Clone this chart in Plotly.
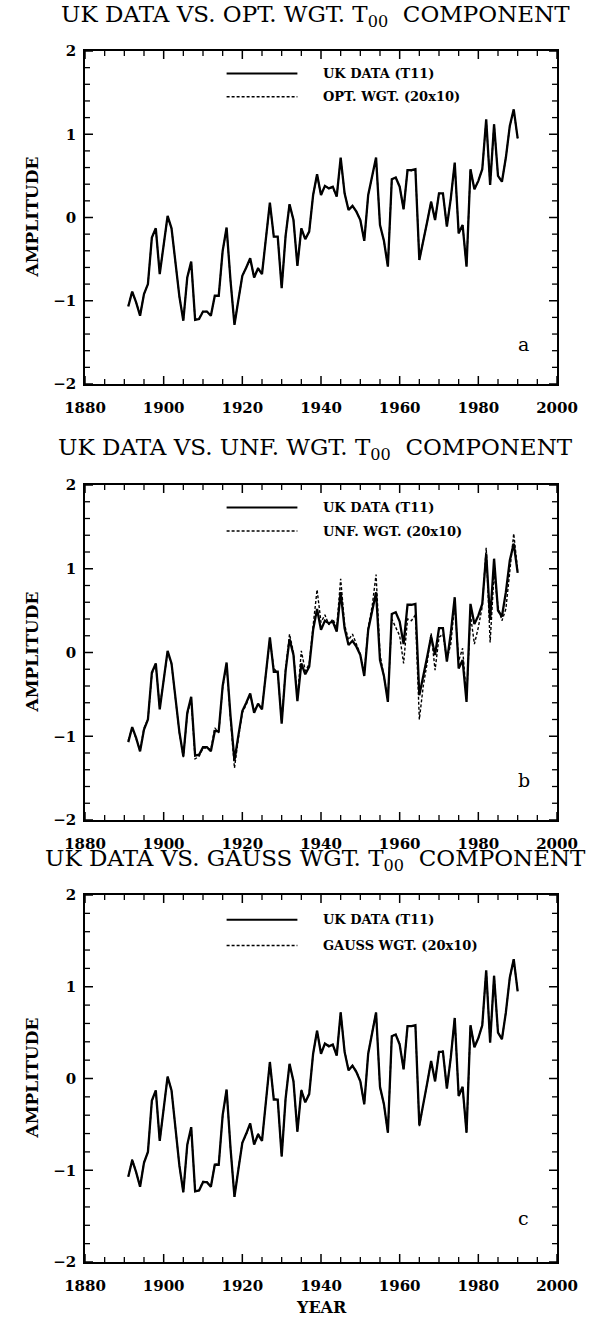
import plotly.graph_objects as go

years = list(range(1891, 1991))

uk_data = [
    -1.07, -0.89, -1.02, -1.18, -0.92, -0.80, -0.24, -0.13, -0.68, -0.30,
    0.02, -0.13, -0.56, -0.95, -1.24, -0.72, -0.53, -1.23, -1.22, -1.13,
    -1.13, -1.18, -0.94, -0.94, -0.40, -0.12, -0.76, -1.29, -0.99, -0.70,
    -0.60, -0.49, -0.72, -0.61, -0.68, -0.24, 0.18, -0.23, -0.23, -0.85,
    -0.22, 0.16, -0.03, -0.58, -0.13, -0.26, -0.17, 0.27, 0.52, 0.27,
    0.38, 0.35, 0.37, 0.25, 0.72, 0.29, 0.09, 0.14, 0.07, -0.03,
    -0.28, 0.27, 0.50, 0.72, -0.09, -0.28, -0.59, 0.46, 0.48, 0.37,
    0.10, 0.57, 0.57, 0.58, -0.51, -0.26, -0.05, 0.19, -0.03, 0.29,
    0.29, -0.11, 0.23, 0.66, -0.19, -0.09, -0.59, 0.58, 0.34, 0.44,
    0.58, 1.18, 0.39, 1.12, 0.50, 0.43, 0.72, 1.10, 1.30, 0.95,
]

opt_wgt = [
    -1.06, -0.89, -1.02, -1.17, -0.92, -0.80, -0.24, -0.13, -0.67, -0.30,
    0.01, -0.13, -0.56, -0.95, -1.23, -0.72, -0.54, -1.23, -1.21, -1.13,
    -1.13, -1.17, -0.94, -0.94, -0.40, -0.13, -0.76, -1.28, -0.99, -0.70,
    -0.60, -0.50, -0.72, -0.61, -0.67, -0.24, 0.17, -0.23, -0.23, -0.84,
    -0.22, 0.16, -0.03, -0.57, -0.13, -0.26, -0.17, 0.27, 0.51, 0.27,
    0.38, 0.35, 0.36, 0.25, 0.71, 0.29, 0.09, 0.14, 0.07, -0.03,
    -0.28, 0.27, 0.50, 0.71, -0.09, -0.28, -0.58, 0.46, 0.48, 0.37,
    0.10, 0.57, 0.56, 0.58, -0.51, -0.26, -0.05, 0.19, -0.03, 0.29,
    0.29, -0.11, 0.23, 0.65, -0.19, -0.09, -0.58, 0.58, 0.34, 0.44,
    0.58, 1.17, 0.39, 1.12, 0.50, 0.43, 0.72, 1.10, 1.29, 0.95,
]

unf_wgt = [
    -1.05, -0.90, -1.03, -1.17, -0.90, -0.80, -0.26, -0.14, -0.66, -0.30,
    0.00, -0.14, -0.55, -0.96, -1.25, -0.74, -0.55, -1.27, -1.24, -1.14,
    -1.14, -1.16, -0.90, -0.96, -0.42, -0.14, -0.80, -1.38, -1.02, -0.72,
    -0.62, -0.50, -0.70, -0.62, -0.66, -0.26, 0.16, -0.19, -0.24, -0.83,
    -0.20, 0.22, 0.00, -0.55, 0.02, -0.22, -0.14, 0.32, 0.75, 0.36,
    0.45, 0.33, 0.40, 0.30, 0.88, 0.33, 0.15, 0.22, 0.09, -0.02,
    -0.25, 0.30, 0.55, 0.93, -0.02, -0.28, -0.55, 0.40, 0.30, 0.20,
    -0.13, 0.40, 0.38, 0.45, -0.80, -0.40, -0.12, 0.23, -0.21, 0.18,
    0.22, -0.08, 0.10, 0.58, -0.10, 0.05, -0.55, 0.45, 0.10, 0.30,
    0.55, 1.25, 0.12, 0.95, 0.55, 0.38, 0.52, 1.00, 1.42, 0.98,
]

gauss_wgt = [
    -1.07, -0.88, -1.02, -1.18, -0.91, -0.80, -0.25, -0.13, -0.68, -0.31,
    0.02, -0.13, -0.57, -0.95, -1.24, -0.73, -0.53, -1.23, -1.22, -1.12,
    -1.13, -1.18, -0.93, -0.94, -0.41, -0.12, -0.76, -1.29, -0.98, -0.70,
    -0.61, -0.49, -0.72, -0.60, -0.68, -0.25, 0.18, -0.22, -0.23, -0.85,
    -0.21, 0.16, -0.03, -0.58, -0.12, -0.26, -0.16, 0.27, 0.52, 0.28,
    0.38, 0.36, 0.37, 0.25, 0.72, 0.30, 0.09, 0.14, 0.08, -0.03,
    -0.28, 0.28, 0.50, 0.72, -0.10, -0.28, -0.59, 0.47, 0.48, 0.38,
    0.10, 0.57, 0.57, 0.58, -0.52, -0.26, -0.05, 0.19, -0.03, 0.29,
    0.30, -0.11, 0.23, 0.66, -0.19, -0.10, -0.59, 0.58, 0.35, 0.44,
    0.58, 1.18, 0.40, 1.12, 0.50, 0.43, 0.72, 1.10, 1.30, 0.95,
]

# tick positions (major labelled, minor unlabelled)
x_major = [1880, 1900, 1920, 1940, 1960, 1980, 2000]
x_minor = [v for v in range(1880, 2001, 5) if v not in x_major]
y_major = [-2, -1, 0, 1, 2]
y_minor = [round(-2 + 0.2 * k, 1) for k in range(21) if (k % 5) != 0]

SP = " \u00a0"
titles = [
    "UK DATA VS. OPT. WGT. T<sub>00</sub>" + SP + "COMPONENT",
    "UK DATA VS. UNF. WGT. T<sub>00</sub>" + SP + "COMPONENT",
    "UK DATA VS. GAUSS WGT. T<sub>00</sub>" + SP + "COMPONENT",
]
legend_solid = "UK DATA (T11)"
legend_dashed = ["OPT. WGT. (20x10)", "UNF. WGT. (20x10)", "GAUSS WGT. (20x10)"]
panel_letters = ["a", "b", "c"]

W, H = 598, 1324
# plot-area pixel boxes (top, bottom)
boxes = [(51, 384), (485, 820), (895, 1262)]
x_left, x_right = 85, 557
title_y = [16, 449, 860]
X_RANGE = [1880, 2000]
Y_RANGE = [-2, 2]

SERIF = "DejaVu Serif"
fig = go.Figure()
dashed_series = [opt_wgt, unf_wgt, gauss_wgt]
shapes = []

for i in range(3):
    n = "" if i == 0 else str(i + 1)
    xa = "x" + n
    ya = "y" + n
    fig.add_trace(go.Scatter(x=years, y=dashed_series[i], mode="lines",
                             line=dict(color="black", width=1.4, dash="3px,2px"),
                             xaxis=xa, yaxis=ya, showlegend=False))
    fig.add_trace(go.Scatter(x=years, y=uk_data, mode="lines",
                             line=dict(color="black", width=2.3),
                             xaxis=xa, yaxis=ya, showlegend=False))
    top, bot = boxes[i]
    axcommon = dict(showline=True, linecolor="black", linewidth=1.5, mirror=True,
                    ticks="", showgrid=False, zeroline=False, automargin=False,
                    tickfont=dict(family=SERIF, size=15, color="black", weight="bold"))
    fig.update_layout(**{
        "xaxis" + n: dict(domain=[x_left / W, x_right / W], range=X_RANGE,
                          anchor=ya, tickmode="array", tickvals=x_major,
                          ticklabelstandoff=9, **axcommon),
        "yaxis" + n: dict(domain=[1 - bot / H, 1 - top / H], range=Y_RANGE,
                          anchor=xa, tickmode="array", tickvals=y_major,
                          ticklabelstandoff=4, **axcommon),
    })

    # inward tick marks on all four sides, placed through the axes' scales
    for vals, ln, wd in ((x_major, 8, 1.5), (x_minor, 5, 1.3)):
        for v in vals:
            for anchor, sgn in ((Y_RANGE[0], 1), (Y_RANGE[1], -1)):
                shapes.append(dict(type="line", xref=xa, yref=ya, x0=v, x1=v,
                                   ysizemode="pixel", yanchor=anchor, y0=0, y1=sgn * ln,
                                   line=dict(color="black", width=wd), layer="above"))
    for vals, ln, wd in ((y_major, 8, 1.5), (y_minor, 5, 1.3)):
        for v in vals:
            for anchor, sgn in ((X_RANGE[0], 1), (X_RANGE[1], -1)):
                shapes.append(dict(type="line", xref=xa, yref=ya, y0=v, y1=v,
                                   xsizemode="pixel", xanchor=anchor, x0=0, x1=sgn * ln,
                                   line=dict(color="black", width=wd), layer="above"))

    # title
    fig.add_annotation(text=titles[i], xref="paper", yref="paper",
                       x=315 / W, y=1 - title_y[i] / H, xanchor="center", yanchor="middle",
                       showarrow=False, font=dict(family=SERIF, size=23, color="black"))
    # y axis label
    fig.add_annotation(text="AMPLITUDE", xref="paper", yref="paper",
                       x=31 / W, y=1 - (top + bot) / 2 / H, textangle=-90,
                       xanchor="center", yanchor="middle", showarrow=False,
                       font=dict(family=SERIF, size=17, color="black", weight="bold"))
    # legend
    for k, (txt, dash, yy) in enumerate([(legend_solid, "solid", 1.73), (legend_dashed[i], "3px,2px", 1.45)]):
        shapes.append(dict(type="line", xref=xa, yref=ya, x0=1916, x1=1934, y0=yy, y1=yy,
                           line=dict(color="black", width=2.0 if k == 0 else 1.4, dash=dash)))
        fig.add_annotation(text=txt, xref=xa, yref=ya, x=1940, y=yy, xanchor="left",
                           yanchor="middle", showarrow=False,
                           font=dict(family=SERIF, size=13, color="black", weight="bold"))
    fig.add_annotation(text=panel_letters[i], xref=xa, yref=ya, x=1991.5, y=-1.52,
                       xanchor="center", yanchor="middle", showarrow=False,
                       font=dict(family=SERIF, size=19, color="black"))

fig.add_annotation(text="YEAR", xref="paper", yref="paper", x=321 / W, y=1 - 1307 / H,
                   xanchor="center", yanchor="middle", showarrow=False,
                   font=dict(family=SERIF, size=16, color="black", weight="bold"))

fig.update_layout(width=W, height=H, margin=dict(l=0, r=0, t=0, b=0), template="none",
                  shapes=shapes)

fig.write_html("out.html", post_script="document.body.style.margin='0px';",
               config={"displayModeBar": False})
